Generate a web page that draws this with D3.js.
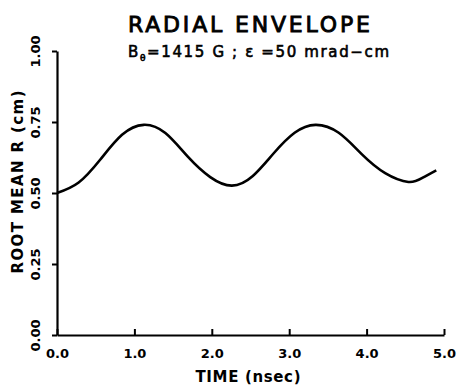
<!DOCTYPE html>
<html><head><meta charset="utf-8">
<script src="https://cdn.jsdelivr.net/npm/d3@7"></script>
<style>body{margin:0;background:#fff}svg{display:block}text{font-family:"DejaVu Sans",sans-serif;font-weight:bold;fill:#000}</style>
</head><body>
<svg id="c" width="459" height="385"></svg>
<script>
const timeNs = [0.0,0.28,0.56,0.84,1.12,1.40,1.69,1.98,2.26,2.53,2.80,3.07,3.34,3.64,3.94,4.24,4.54,4.72,4.9];
const rmsR   = [0.50,0.537,0.618,0.705,0.74,0.711,0.628,0.556,0.526,0.560,0.640,0.712,0.74,0.712,0.636,0.570,0.539,0.553,0.58];
const xTicks = [0,1,2,3,4,5];
const xTickLabels = ["0.0","1.0","2.0","3.0","4.0","5.0"];
const yTicks = [0,0.25,0.5,0.75,1.0];
const yTickLabels = ["0.00","0.25","0.50","0.75","1.00"];

const svg = d3.select("#c");
const x = d3.scaleLinear().domain([0,5]).range([57,444]);
const y = d3.scaleLinear().domain([0,1]).range([335,51]);

const xAxis = d3.axisBottom(x).tickValues(xTicks).tickFormat((d,i)=>xTickLabels[i]).tickSize(-6).tickSizeOuter(0).tickPadding(14);
const gx = svg.append("g").attr("transform",`translate(0,${y(0)})`).call(xAxis);
gx.select(".domain").attr("stroke","#000").attr("stroke-width",2);
gx.selectAll(".tick line").attr("stroke","#000").attr("stroke-width",2);
gx.selectAll(".tick text").attr("font-size",13).attr("font-family","DejaVu Sans").attr("font-weight","bold");

const yAxis = d3.axisLeft(y).tickValues(yTicks).tickFormat((d,i)=>yTickLabels[i]).tickSize(5).tickSizeOuter(0).tickPadding(0);
const gy = svg.append("g").attr("transform",`translate(${x(0)},0)`).call(yAxis);
gy.select(".domain").attr("stroke","#000").attr("stroke-width",2.2);
gy.selectAll(".tick line").attr("stroke","#000").attr("stroke-width",2);
gy.selectAll(".tick text").attr("font-size",13).attr("font-family","DejaVu Sans").attr("font-weight","bold")
  .attr("text-anchor","middle").attr("dy",0).attr("x",0)
  .attr("transform","translate(-17,0) rotate(-90)").attr("y",0);

const line = d3.line().x((d,i)=>x(timeNs[i])).y(d=>y(d)).curve(d3.curveNatural);
svg.append("path").datum(rmsR).attr("d",line).attr("fill","none").attr("stroke","#000").attr("stroke-width",2.6);

svg.append("text").attr("x",128).attr("y",32).attr("font-size",22)
  .style("font-weight","normal").attr("stroke","#000").attr("stroke-width",0.9)
  .attr("textLength",242).attr("lengthAdjust","spacing").text("RADIAL  ENVELOPE");
const sub = svg.append("text").attr("x",128).attr("y",57).attr("font-size",15)
  .style("font-weight","normal").attr("stroke","#000").attr("stroke-width",0.6);
sub.append("tspan").text("B");
sub.append("tspan").attr("font-size",9).attr("dy",4).text("θ");
sub.append("tspan").attr("dy",-4).text("=1415 G ;  ε =50 mrad−cm");
sub.attr("textLength",261).attr("lengthAdjust","spacing");

svg.append("text").attr("x",248).attr("y",382).attr("text-anchor","middle").attr("font-size",15)
  .attr("textLength",105).attr("lengthAdjust","spacing").text("TIME (nsec)");
svg.append("text").attr("transform","translate(23,182) rotate(-90)").attr("text-anchor","middle").attr("font-size",15)
  .attr("textLength",183).attr("lengthAdjust","spacing").text("ROOT  MEAN  R (cm)");
</script>
</body></html>
